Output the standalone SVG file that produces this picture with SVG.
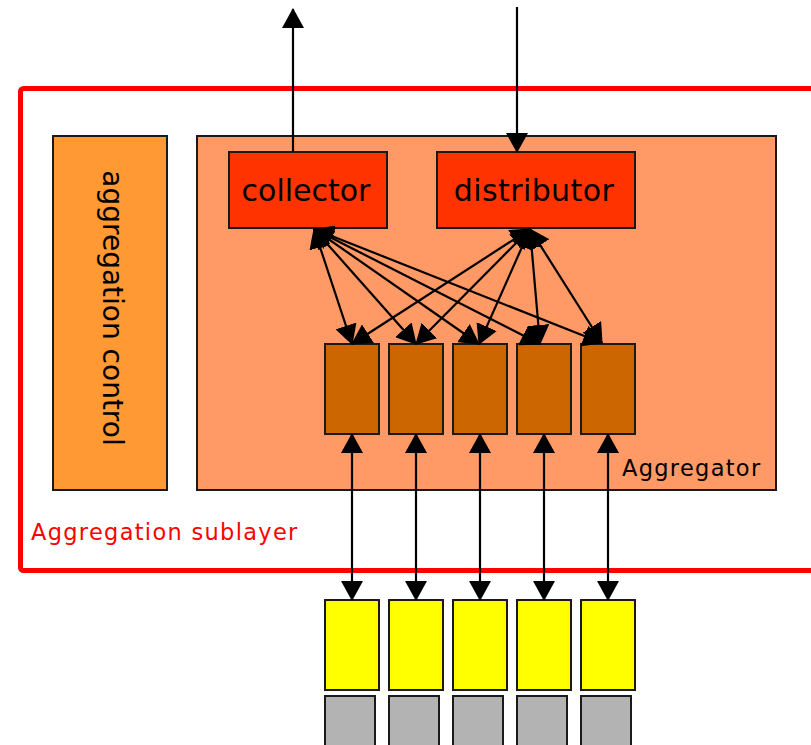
<svg xmlns="http://www.w3.org/2000/svg" width="811" height="745" viewBox="0 0 811 745">
<defs>
<style>
.box{stroke:#1a1a1a;stroke-width:2}
.lbl{font-family:"DejaVu Sans",sans-serif;fill:#000}
.conn line{stroke:#000;stroke-width:2.2;fill:none}
.arr{marker-end:url(#ah)}
.bi{marker-start:url(#ah);marker-end:url(#ah)}
</style>
<marker id="ah" viewBox="0 0 20 22" refX="19" refY="11" markerWidth="20" markerHeight="22" markerUnits="userSpaceOnUse" orient="auto-start-reverse">
<path d="M0,0 L20,11 L0,22 z" fill="#000"/>
</marker>
</defs>
<rect width="811" height="745" fill="#fff"/>

<g id="sublayer">
<rect x="20.5" y="88.5" width="800" height="482" rx="3" fill="none" stroke="#ff0000" stroke-width="5"/>
<text class="lbl" x="31" y="540" font-size="22.5" letter-spacing="1.3" style="fill:#ff0000">Aggregation sublayer</text>
</g>

<g id="aggregation-control">
<rect class="box" x="53" y="136" width="114" height="354" fill="#ff9933"/>
<text class="lbl" transform="translate(103,308) rotate(90)" text-anchor="middle" font-size="28">aggregation control</text>
</g>

<g id="aggregator">
<rect class="box" x="197" y="136" width="579" height="354" fill="#ff9966"/>
<text class="lbl" x="622" y="476" font-size="22.5" letter-spacing="1.3">Aggregator</text>
</g>

<g id="collector">
<rect class="box" x="229" y="152" width="158" height="76" fill="#ff3300"/>
<text class="lbl" x="306" y="201" text-anchor="middle" font-size="30">collector</text>
</g>

<g id="distributor">
<rect class="box" x="437" y="152" width="198" height="76" fill="#ff3300"/>
<text class="lbl" x="534" y="201" text-anchor="middle" font-size="30" letter-spacing="0.4">distributor</text>
</g>

<g id="agg-port-1"><rect class="box" x="325" y="344" width="54" height="90" fill="#cc6600"/></g>
<g id="agg-port-2"><rect class="box" x="389" y="344" width="54" height="90" fill="#cc6600"/></g>
<g id="agg-port-3"><rect class="box" x="453" y="344" width="54" height="90" fill="#cc6600"/></g>
<g id="agg-port-4"><rect class="box" x="517" y="344" width="54" height="90" fill="#cc6600"/></g>
<g id="agg-port-5"><rect class="box" x="581" y="344" width="54" height="90" fill="#cc6600"/></g>

<g id="mac-1"><rect class="box" x="325" y="600" width="54" height="90" fill="#ffff00"/></g>
<g id="mac-2"><rect class="box" x="389" y="600" width="54" height="90" fill="#ffff00"/></g>
<g id="mac-3"><rect class="box" x="453" y="600" width="54" height="90" fill="#ffff00"/></g>
<g id="mac-4"><rect class="box" x="517" y="600" width="54" height="90" fill="#ffff00"/></g>
<g id="mac-5"><rect class="box" x="581" y="600" width="54" height="90" fill="#ffff00"/></g>

<g id="phy-1"><rect class="box" x="325" y="696" width="50" height="60" fill="#b3b3b3"/></g>
<g id="phy-2"><rect class="box" x="389" y="696" width="50" height="60" fill="#b3b3b3"/></g>
<g id="phy-3"><rect class="box" x="453" y="696" width="50" height="60" fill="#b3b3b3"/></g>
<g id="phy-4"><rect class="box" x="517" y="696" width="50" height="60" fill="#b3b3b3"/></g>
<g id="phy-5"><rect class="box" x="581" y="696" width="50" height="60" fill="#b3b3b3"/></g>

<g id="connectors" class="conn">
<line class="arr" x1="293" y1="152" x2="293" y2="9"/>
<line class="arr" x1="517" y1="7" x2="517" y2="152"/>

<line class="bi" x1="314" y1="229" x2="352" y2="344"/>
<line class="bi" x1="314" y1="229" x2="416" y2="344"/>
<line class="bi" x1="314" y1="229" x2="479" y2="344"/>
<line class="bi" x1="314" y1="229" x2="540" y2="344"/>
<line class="bi" x1="314" y1="229" x2="602" y2="343"/>

<line class="bi" x1="530" y1="229" x2="352" y2="344"/>
<line class="bi" x1="530" y1="229" x2="416" y2="344"/>
<line class="bi" x1="530" y1="229" x2="479" y2="344"/>
<line class="bi" x1="530" y1="229" x2="540" y2="344"/>
<line class="bi" x1="530" y1="229" x2="602" y2="343"/>

<line class="bi" x1="352" y1="434" x2="352" y2="600"/>
<line class="bi" x1="416" y1="434" x2="416" y2="600"/>
<line class="bi" x1="480" y1="434" x2="480" y2="600"/>
<line class="bi" x1="544" y1="434" x2="544" y2="600"/>
<line class="bi" x1="608" y1="434" x2="608" y2="600"/>
</g>
</svg>
